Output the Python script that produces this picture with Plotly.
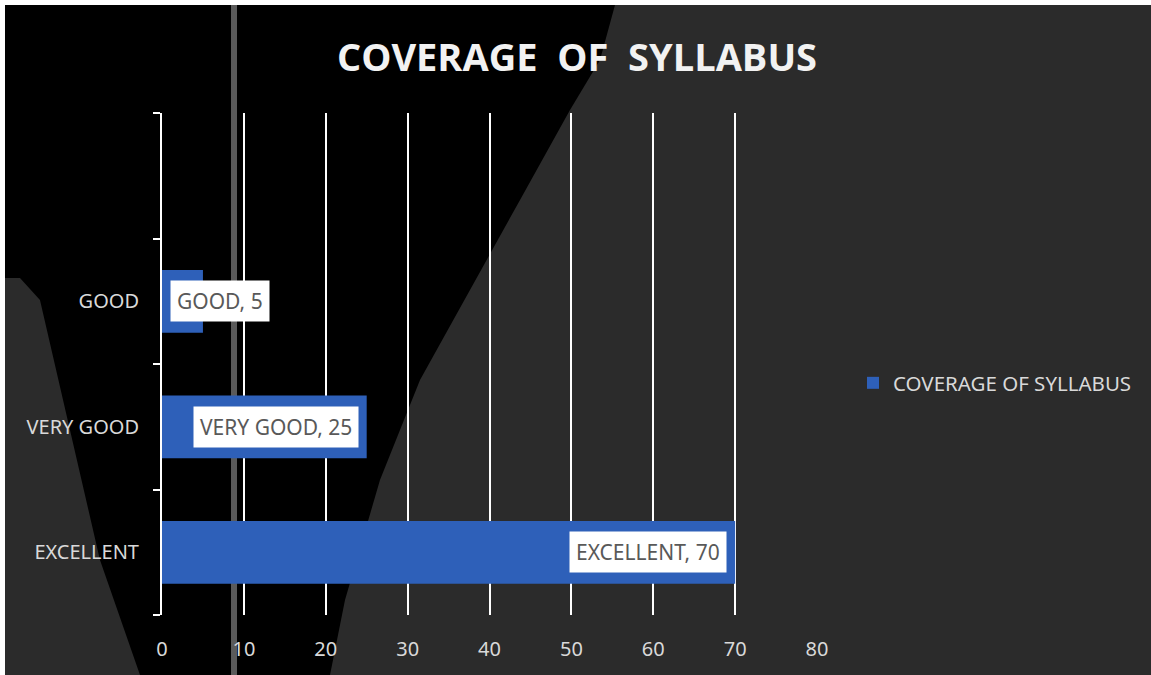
import plotly.graph_objects as go

# chart data
categories = ["EXCELLENT", "VERY GOOD", "GOOD", " "]
values = [70, 25, 5, None]
series_name = "COVERAGE OF SYLLABUS"
title_text = "COVERAGE  OF  SYLLABUS"
x_ticks = [0, 10, 20, 30, 40, 50, 60, 70, 80]

W, H = 1151, 675
M_L, M_R, M_T, M_B = 162, 334, 113, 60
PW, PH = W - M_L - M_R, H - M_T - M_B


def px(x, y):
    # pixel position -> paper coords (for the background decoration only)
    return (x - M_L) / PW, (H - M_B - y) / PH


def poly(points):
    parts = []
    for i, (x, y) in enumerate(points):
        u, v = px(x, y)
        parts.append(("M" if i == 0 else "L") + f"{u:.4f},{v:.4f}")
    return " ".join(parts) + " Z"


BAR_BLUE = "#2e60b9"
AXIS_TXT = "#d9d9d9"

fig = go.Figure()
fig.add_trace(
    go.Bar(
        x=values,
        y=categories,
        orientation="h",
        name=series_name,
        marker=dict(color=BAR_BLUE, line=dict(width=0)),
        width=0.5,
        showlegend=True,
        hoverinfo="skip",
    )
)

# data labels as white boxes
annotations = []
for cat, val in zip(categories, values):
    if val is None:
        continue
    if val < 10:
        ax, anchor, shift = 0, "left", 8
    else:
        ax, anchor, shift = val, "right", -8
    annotations.append(
        dict(
            x=ax, y=cat, xref="x", yref="y",
            text=f"{cat}, {val}",
            showarrow=False,
            xanchor=anchor, xshift=shift,
            bgcolor="white",
            borderpad=6,
            font=dict(family="Noto Sans", size=21, color="#595959"),
        )
    )

# background: white frame, dark panel, black wedge, grey pole
shapes = []
x0, y0 = px(5, 5)
x1, y1 = px(W + 20, H + 20)
shapes.append(dict(type="rect", xref="paper", yref="paper", x0=x0, y0=y1, x1=x1, y1=y0,
                   fillcolor="#2b2b2b", line=dict(width=0), layer="below"))
black_pts = [(5, 5), (615, 5), (600, 60), (570, 110), (520, 200), (470, 290), (420, 380),
             (380, 480), (345, 600), (330, 675), (140, 675), (100, 560), (70, 430),
             (40, 300), (20, 278), (5, 278)]
shapes.append(dict(type="path", xref="paper", yref="paper", path=poly(black_pts),
                   fillcolor="#000000", line=dict(width=0), layer="below"))
lx, _ = px(234, 0)
shapes.append(dict(type="line", xref="paper", yref="paper", x0=lx, x1=lx, y0=px(0, 5)[1], y1=px(0, H)[1],
                   line=dict(color="#5a5a5a", width=6), layer="below"))

fig.update_layout(
    width=W, height=H,
    margin=dict(l=M_L, r=M_R, t=M_T, b=M_B),
    paper_bgcolor="white",
    plot_bgcolor="rgba(0,0,0,0)",
    shapes=shapes,
    annotations=annotations,
    title=dict(
        text=f"<b>{title_text}</b>",
        x=577 / W, xanchor="center",
        y=1 - 58 / H, yanchor="middle",
        font=dict(family="Open Sans", size=38, color="#f2f2f2"),
    ),
    font=dict(family="Noto Sans", size=20, color=AXIS_TXT),
    xaxis=dict(
        range=[0, 80],
        tickvals=x_ticks,
        showgrid=True, gridcolor="white", gridwidth=1.5,
        zeroline=False, showline=False, ticks="",
        ticklabelstandoff=20,
        tickfont=dict(size=20, color=AXIS_TXT),
    ),
    yaxis=dict(
        type="category",
        categoryorder="array", categoryarray=categories,
        range=[-0.5, 3.5],
        showgrid=False, zeroline=False,
        showline=True, linecolor="white", linewidth=2,
        ticks="outside", tickson="boundaries", ticklen=7, tickcolor="white", tickwidth=2,
        ticklabelstandoff=17,
        tickfont=dict(size=20, color=AXIS_TXT),
    ),
    legend=dict(
        x=px(853, 0)[0], xanchor="left",
        y=px(0, 383)[1], yanchor="middle",
        bgcolor="rgba(0,0,0,0)",
        font=dict(family="Noto Sans", size=20.5, color=AXIS_TXT),
        itemclick=False,
    ),
    bargap=0.5,
)

# drop the browser's default body margin so the figure sits at the page corner
fig.write_html(
    "out.html",
    config={"displayModeBar": False},
    post_script="document.body.style.margin='0';",
)
